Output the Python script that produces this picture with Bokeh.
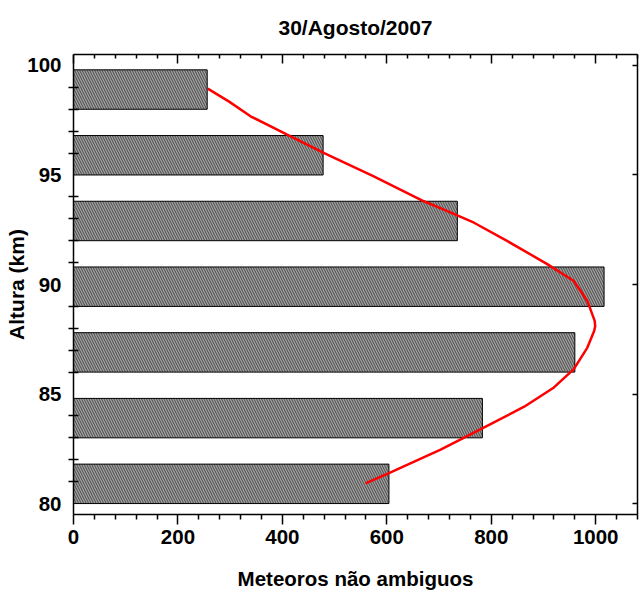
from bokeh.plotting import figure
from bokeh.models import LinearAxis, FixedTicker, Range1d, ColumnDataSource
from bokeh.embed import file_html
from bokeh.resources import INLINE

# Data
titulo = "30/Agosto/2007"
altura_base = [80, 83, 86, 89, 92, 95, 98]          # km, lower edge of each bin
meteoros = [604, 783, 960, 1016, 735, 478, 256]     # unambiguous meteors per bin
bar_altura = 1.8                                    # bar thickness in km

fit_x = [559, 603, 703, 780, 863, 920, 958, 984, 997, 999, 998, 984, 958, 908,
         831, 767, 716, 671, 575, 480, 409, 339, 298, 257]
fit_y = [80.92, 81.38, 82.46, 83.40, 84.42, 85.30, 86.14, 87.12, 87.88, 88.10,
         88.34, 89.25, 90.16, 90.92, 91.98, 92.82, 93.35, 93.80, 94.94, 96.00,
         96.84, 97.68, 98.35, 98.94]

x_major = [0, 200, 400, 600, 800, 1000]
x_minor = [v for v in range(0, 1081, 40) if v % 200 != 0]
y_major = [80, 85, 90, 95, 100]
y_minor = [v for v in range(80, 101) if v % 5 != 0]

FONT = "Liberation Sans"

p = figure(frame_width=564, frame_height=460,
           x_range=Range1d(0, 1080), y_range=Range1d(79.5, 100.5),
           output_backend="svg", toolbar_location=None,
           min_border_left=73, min_border_right=2,
           min_border_top=54, min_border_bottom=76)
p.grid.visible = False
p.outline_line_color = None
p.background_fill_color = "white"
p.border_fill_color = "white"
p.title.visible = False

src = ColumnDataSource(dict(
    left=[0] * len(meteoros),
    right=meteoros,
    bottom=altura_base,
    top=[b + bar_altura for b in altura_base],
))
p.quad(left="left", right="right", bottom="bottom", top="top", source=src,
       fill_color="#a0a0a0", line_color="black", line_width=1,
       hatch_pattern="\\", hatch_scale=5, hatch_color="black",
       hatch_weight=0.9, hatch_alpha=0.6)

p.line(fit_x, fit_y, line_color="#ff0000", line_width=2.5)

# bottom axis
xa = p.xaxis[0]
xa.ticker = FixedTicker(ticks=x_major, minor_ticks=x_minor)
xa.axis_label = "Meteoros não ambiguos"
xa.axis_label_text_font = FONT
xa.axis_label_text_font_style = "bold"
xa.axis_label_text_font_size = "20.5px"
xa.axis_label_text_color = "black"
xa.axis_label_standoff = 20
xa.major_label_text_font = FONT
xa.major_label_text_font_style = "bold"
xa.major_label_text_font_size = "20.5px"
xa.major_label_text_color = "black"
xa.major_label_standoff = 5
xa.major_tick_in = 0
xa.major_tick_out = 10
xa.minor_tick_in = 0
xa.minor_tick_out = 5
xa.axis_line_width = 1.5
xa.major_tick_line_width = 1.5
xa.minor_tick_line_width = 1.5

# left axis
ya = p.yaxis[0]
ya.ticker = FixedTicker(ticks=y_major, minor_ticks=y_minor)
ya.axis_label = "Altura (km)"
ya.axis_label_text_font = FONT
ya.axis_label_text_font_style = "bold"
ya.axis_label_text_font_size = "21px"
ya.axis_label_text_color = "black"
ya.axis_label_standoff = -4
ya.major_label_text_font = FONT
ya.major_label_text_font_style = "bold"
ya.major_label_text_font_size = "20.5px"
ya.major_label_text_color = "black"
ya.major_label_standoff = 7
ya.major_tick_in = 0
ya.major_tick_out = 0
ya.minor_tick_in = 5
ya.minor_tick_out = 5
ya.axis_line_width = 1.5
ya.minor_tick_line_width = 1.5

# top axis (ticks inward, no tick labels; carries the title)
top = LinearAxis(ticker=FixedTicker(ticks=x_major, minor_ticks=x_minor),
                 major_label_text_font_size="1px", major_label_text_color=None,
                 major_label_standoff=0,
                 major_tick_in=9, major_tick_out=0,
                 minor_tick_in=4, minor_tick_out=0,
                 axis_line_width=1.5, major_tick_line_width=1.5,
                 minor_tick_line_width=1.5,
                 axis_label=titulo, axis_label_text_font=FONT,
                 axis_label_text_font_style="bold",
                 axis_label_text_font_size="21px",
                 axis_label_text_color="black",
                 axis_label_standoff=16)
p.add_layout(top, "above")

# right axis (major ticks inward, no labels)
right = LinearAxis(ticker=FixedTicker(ticks=y_major, minor_ticks=[]),
                   major_label_text_font_size="1px", major_label_text_color=None,
                   major_label_standoff=0,
                   major_tick_in=5, major_tick_out=0,
                   minor_tick_in=0, minor_tick_out=0,
                   axis_line_width=1.5, major_tick_line_width=1.5)
p.add_layout(right, "right")

open("out.html", "w").write(file_html(p, INLINE))
